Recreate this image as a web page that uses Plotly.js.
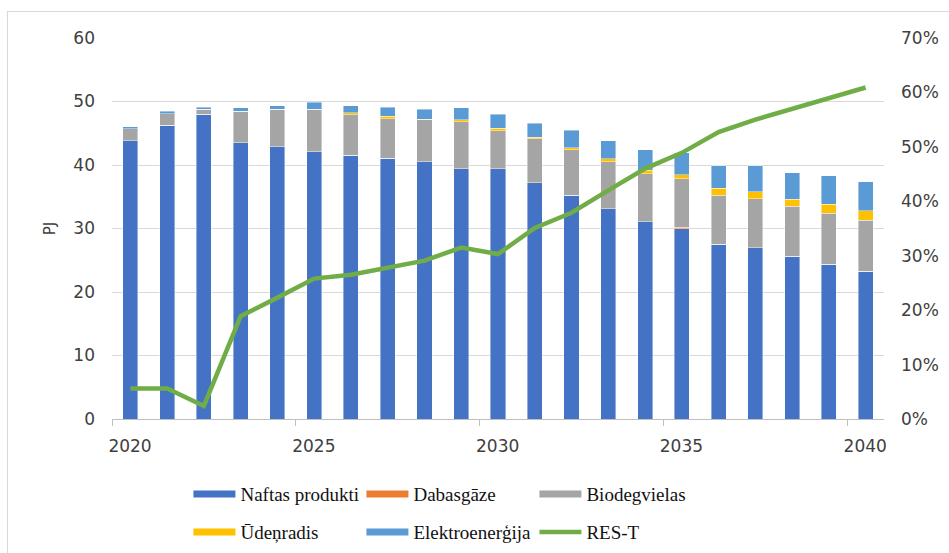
<!DOCTYPE html>
<html>
<head>
<meta charset="utf-8">
<script src="https://cdn.plot.ly/plotly-3.0.1.min.js"></script>
<style>
html,body{margin:0;padding:0;background:#fff;}
#frame{position:absolute;left:7px;top:11px;width:942px;height:542px;border-left:1px solid #d9d9d9;border-top:1px solid #d9d9d9;}
#chart{position:absolute;left:0;top:0;width:949px;height:553px;}
</style>
</head>
<body>
<div id="frame"></div>
<div id="chart"></div>
<script>
const years = [2020,2021,2022,2023,2024,2025,2026,2027,2028,2029,2030,2031,2032,2033,2034,2035,2036,2037,2038,2039,2040];
const naftasProdukti = [43.8,46.3,48.0,43.5,42.9,42.1,41.5,41.1,40.5,39.4,39.4,37.2,35.2,33.1,31.1,30.0,27.5,27.0,25.6,24.4,23.3];
const dabasgaze      = [0,0,0,0,0,0,0,0,0,0,0,0,0,0,0,0.2,0,0,0,0,0];
const biodegvielas   = [1.9,1.8,0.8,5.0,5.9,6.7,6.4,6.2,6.6,7.4,6.0,6.9,7.2,7.4,7.5,7.6,7.7,7.7,7.9,8.0,8.0];
const udenradis      = [0,0,0,0,0,0,0.3,0.4,0.1,0.3,0.4,0.3,0.3,0.5,0.6,0.7,1.1,1.1,1.1,1.4,1.5];
const elektroenergija= [0.3,0.4,0.3,0.5,0.5,1.1,1.1,1.4,1.6,1.9,2.2,2.2,2.8,2.8,3.2,3.4,3.6,4.1,4.2,4.5,4.6];
const resT           = [0.056,0.056,0.024,0.189,0.223,0.258,0.265,0.277,0.291,0.315,0.303,0.351,0.379,0.420,0.460,0.489,0.527,0.550,0.570,0.591,0.609];
const tickYears = [2020,2025,2030,2035,2040];

const names  = ['Naftas produkti','Dabasgāze','Biodegvielas','Ūdeņradis','Elektroenerģija'];
const series = [naftasProdukti,dabasgaze,biodegvielas,udenradis,elektroenergija];
const colors = ['#4472C4','#ED7D31','#A5A5A5','#FFC000','#5B9BD5'];
const legendOf = ['legend','legend','legend','legend2','legend2'];

const traces = [];
series.forEach((s,i)=>{
  traces.push({type:'bar', x:years, y:s, name:names[i], marker:{color:colors[i], line:{width:0.6,color:'rgba(255,255,255,0.7)'}}, showlegend:false, hoverinfo:'y+name'});
});
// legend swatches
series.forEach((s,i)=>{
  traces.push({type:'scatter', mode:'lines', x:[null], y:[null], name:names[i], line:{color:colors[i], width:7}, legend:legendOf[i], showlegend:true, hoverinfo:'skip'});
});
traces.push({type:'scatter', mode:'lines', x:years, y:resT, name:'RES-T', yaxis:'y2', line:{color:'#70AD47', width:4.5}, legend:'legend2'});

const tickFont = {family:'DejaVu Sans, Verdana, sans-serif', size:17, color:'#404040'};
const legFont = {family:'Liberation Serif, serif', size:19, color:'#111'};

const layout = {
  width:949, height:553,
  paper_bgcolor:'rgba(0,0,0,0)', plot_bgcolor:'rgba(0,0,0,0)',
  margin:{l:112, r:65, t:38, b:134, pad:0, autoexpand:false},
  barmode:'stack', bargap:0.59,
  xaxis:{
    range:[2019.5,2040.5], tickmode:'array',
    tickvals:tickYears.map(v=>v-0.5), ticktext:tickYears.map(String),
    ticklabelshift:18, ticks:'outside', ticklen:6, tickcolor:'#BFBFBF',
    showgrid:false, zeroline:false, showline:true, linecolor:'#BFBFBF', linewidth:1,
    tickfont:tickFont, ticklabelstandoff:6
  },
  yaxis:{
    range:[0,60], dtick:10, tick0:0, showgrid:true, gridcolor:'#D9D9D9', gridwidth:1,
    zeroline:false, showline:false, ticks:'', tickfont:tickFont, ticklabelstandoff:16,
    title:{text:'PJ', font:{family:'DejaVu Sans, sans-serif', size:15, color:'#404040'}, standoff:14}
  },
  yaxis2:{
    overlaying:'y', side:'right', range:[0,0.7], dtick:0.1, tick0:0, tickformat:'.0%',
    showgrid:false, zeroline:false, showline:false, ticks:'', tickfont:tickFont, ticklabelstandoff:16
  },
  legend:{orientation:'h', traceorder:'normal', x:0.099, xanchor:'left', y:-0.197, yanchor:'middle', font:legFont, entrywidth:116, itemwidth:42, tracegroupgap:0, bgcolor:'rgba(0,0,0,0)'},
  legend2:{orientation:'h', traceorder:'normal', x:0.099, xanchor:'left', y:-0.297, yanchor:'middle', font:legFont, entrywidth:116, itemwidth:42, tracegroupgap:0, bgcolor:'rgba(0,0,0,0)'},
  showlegend:true
};

Plotly.newPlot('chart', traces, layout, {displayModeBar:false, staticPlot:true});
</script>
</body>
</html>
